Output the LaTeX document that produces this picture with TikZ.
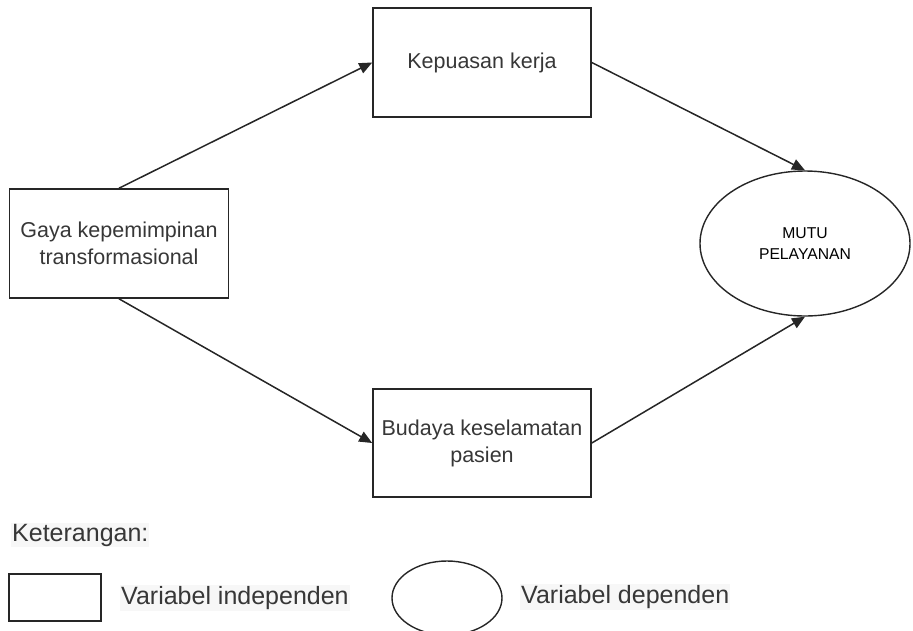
\documentclass[tikz,border=0pt]{standalone}
\usepackage{fontspec}
\setmainfont{Liberation Sans}
\usetikzlibrary{shapes.geometric,arrows.meta}
\definecolor{txt}{RGB}{55,55,55}
\definecolor{hl}{RGB}{247,247,247}
\tikzset{
  varbox/.style={draw=black!85, line width=1.6pt, rectangle, inner sep=0pt, align=center,
     text=txt, font=\fontsize{21.5}{27}\selectfont},
  depoval/.style={draw=black!85, line width=1.4pt, ellipse, inner sep=0pt, align=center,
     font=\fontsize{15.7}{21}\selectfont},
  conn/.style={draw=black!85, line width=1.5pt, -{Triangle[length=13pt,width=11pt]}},
  legtext/.style={anchor=west, inner sep=1pt, fill=hl, text=txt, font=\fontsize{25}{29}\selectfont}
}
\begin{document}
\begin{tikzpicture}[x=1pt,y=-1pt]
\useasboundingbox (0,0) rectangle (913,630);
\node[varbox, minimum width=219pt, minimum height=109pt] (gaya) at (119,243.5) {Gaya kepemimpinan\\transformasional};
\node[varbox, minimum width=218pt, minimum height=109pt] (kepuasan) at (482,62.5) {Kepuasan kerja};
\node[varbox, minimum width=218pt, minimum height=108pt] (budaya) at (482,443) {Budaya keselamatan\\pasien};
\node[depoval, minimum width=210pt, minimum height=145pt] (mutu) at (805,243.5) {MUTU\\PELAYANAN};
\draw[conn] (gaya.north) -- (kepuasan.west);
\draw[conn] (kepuasan.east) -- (mutu.north);
\draw[conn] (gaya.south) -- (budaya.west);
\draw[conn] (budaya.east) -- (mutu.south);
% legend
\node[legtext] (ket) at (11,535) {Keterangan:};
\node[varbox, minimum width=92pt, minimum height=47pt] (legbox) at (55,597.5) {};
\node[legtext] (indep) at (120,598) {Variabel independen};
\node[depoval, minimum width=110pt, minimum height=74pt] (legoval) at (447,598) {};
\node[legtext] (dep) at (520,597) {Variabel dependen};
\end{tikzpicture}
\end{document}
